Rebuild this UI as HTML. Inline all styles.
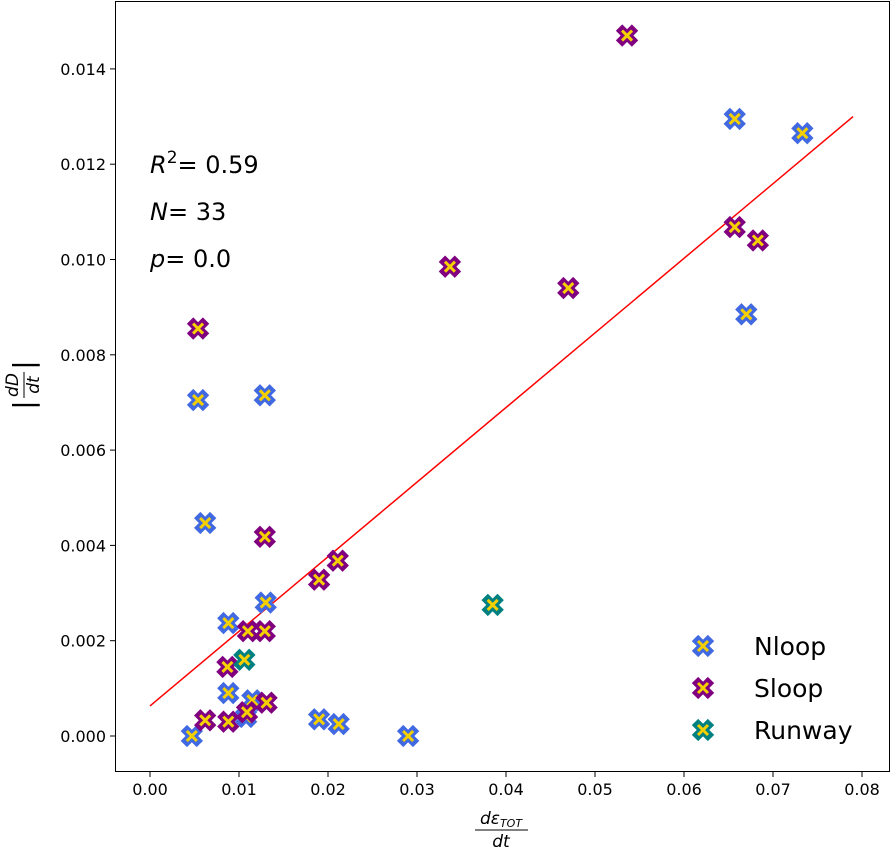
<!DOCTYPE html>
<html><head><meta charset="utf-8"><style>
body{margin:0;background:#fff;font-family:"Liberation Sans","DejaVu Sans",sans-serif}
svg text{font-family:"DejaVu Sans","Liberation Sans",sans-serif}
</style></head><body>
<svg id="chart" width="892" height="849" xmlns="http://www.w3.org/2000/svg">
<rect x="115.5" y="1.5" width="774" height="770" fill="#fff" stroke="#000" stroke-width="1"/>
<g id="ticks"></g>
<line id="fit" stroke="#f00" stroke-width="1.5"/>
<g id="points"></g>
<text x="150" y="173" font-size="24"><tspan font-style="italic">R</tspan><tspan dy="-10" font-size="17">2</tspan><tspan dy="10">= 0.59</tspan></text>
<text x="150" y="220" font-size="24"><tspan font-style="italic">N</tspan>= 33</text>
<text x="150" y="267" font-size="24"><tspan font-style="italic">p</tspan>= 0.0</text>
<g font-size="17" font-style="italic" text-anchor="middle">
<text x="501" y="824">dε<tspan font-size="11" dy="3">TOT</tspan></text>
<line x1="475" y1="830" x2="528" y2="830" stroke="#000" stroke-width="1"/>
<text x="501" y="847">dt</text>
</g>
<g transform="translate(24,385) rotate(-90)" text-anchor="middle">
<text x="0" y="-6" font-size="17" font-style="italic">dD</text>
<line x1="-13" y1="0" x2="13" y2="0" stroke="#000"/>
<text x="0" y="15" font-size="17" font-style="italic">dt</text>
<text x="-20" y="9" font-size="28">|</text><text x="20" y="9" font-size="28">|</text>
</g>
<g id="legend"></g>
</svg>
<script>
const xTicks=[0,0.01,0.02,0.03,0.04,0.05,0.06,0.07,0.08];
const xTickLabels=["0.00","0.01","0.02","0.03","0.04","0.05","0.06","0.07","0.08"];
const yTicks=[0,0.002,0.004,0.006,0.008,0.010,0.012,0.014];
const yTickLabels=["0.000","0.002","0.004","0.006","0.008","0.010","0.012","0.014"];
const nloopX=[0.0657,0.0733,0.0670,0.0054,0.0129,0.0062,0.0130,0.0088,0.0047,0.0088,0.0115,0.0108,0.0190,0.0212,0.0290];
const nloopY=[0.01295,0.01265,0.00885,0.00705,0.00715,0.00447,0.0028,0.00237,0.0000,0.0009,0.00075,0.0004,0.00035,0.00025,0.0000];
const sloopX=[0.0536,0.0337,0.0470,0.0657,0.0683,0.0054,0.0129,0.0190,0.0211,0.0087,0.0110,0.0129,0.0062,0.0088,0.0109,0.0131];
const sloopY=[0.0147,0.00985,0.0094,0.01068,0.0104,0.00855,0.00418,0.00328,0.00368,0.00145,0.0022,0.0022,0.00033,0.0003,0.0005,0.0007];
const runwayX=[0.0385,0.0106];
const runwayY=[0.00275,0.0016];
const fitX=[0,0.079];
const fitY=[0.00063,0.0130];
const sx=v=>150+v*8900;
const sy=v=>736-v*47650;
const NS="http://www.w3.org/2000/svg";
function mk(t,a,p){const e=document.createElementNS(NS,t);for(const k in a)e.setAttribute(k,a[k]);p.appendChild(e);return e;}
const tg=document.getElementById('ticks');
xTicks.forEach((v,i)=>{const x=sx(v);
 const l=mk('line',{x1:x,y1:772,x2:x,y2:777,stroke:'#000'},tg);
 
 
 const t=mk('text',{x:x,y:795,'font-size':16,'text-anchor':'middle'},tg);t.textContent=xTickLabels[i];
 
 });
yTicks.forEach((v,i)=>{const y=sy(v);
 const l=mk('line',{x1:110,y1:y,x2:115,y2:y,stroke:'#000'},tg);
 
 
 const t=mk('text',{x:106,y:y+6,'font-size':16,'text-anchor':'end'},tg);t.textContent=yTickLabels[i];
 
 });
const f=document.getElementById('fit');
f.setAttribute('x1',sx(fitX[0]));f.setAttribute('y1',sy(fitY[0]));f.setAttribute('x2',sx(fitX[1]));f.setAttribute('y2',sy(fitY[1]));
function marker(p,x,y,col){
 const g=mk('g',{transform:`translate(${x},${y})`},p);
 mk('path',{d:'M-8,-8L8,8M-8,8L8,-8',stroke:col,'stroke-width':9,'stroke-linecap':'butt'},g);
 mk('path',{d:'M-5,-5L5,5M-5,5L5,-5',stroke:'#f5d000','stroke-width':3},g);
 return g;}
const pg=document.getElementById('points');
[[nloopX,nloopY,'#4169e1','nloop-point'],[sloopX,sloopY,'#800080','sloop-point'],[runwayX,runwayY,'#008080','runway-point']].forEach(s=>{
 s[0].forEach((v,i)=>{const g=marker(pg,sx(v),sy(s[1][i]),s[2]);
  
  });});
const lg=document.getElementById('legend');
[['Nloop','#4169e1',646],['Sloop','#800080',688],['Runway','#008080',730]].forEach(e=>{
 const g=marker(lg,703,e[2],e[1]);
 
 
 const t=mk('text',{x:754,y:e[2]+9,'font-size':25},lg);t.textContent=e[0];
 
 });
</script>
</body></html>
